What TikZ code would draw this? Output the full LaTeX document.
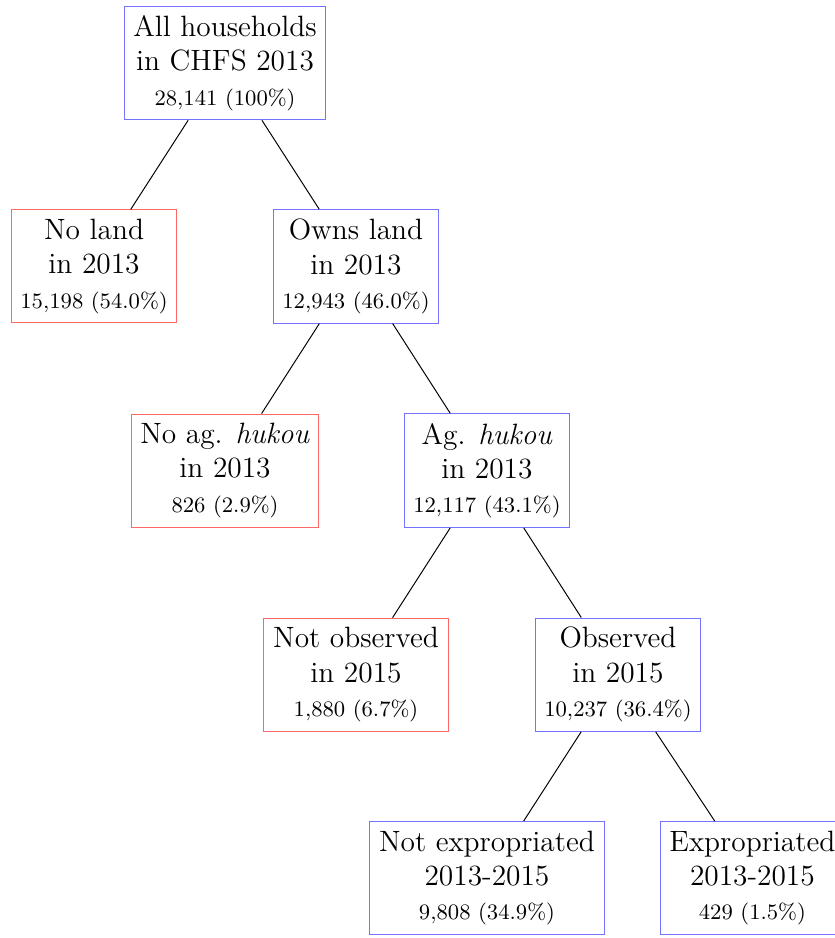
\documentclass[tikz,border=0pt]{standalone}
\usepackage{tikz}

\begin{document}
\begin{tikzpicture}[
    keep/.style={draw=blue!55, align=center, font=\large, inner sep=3.8pt},
    drop/.style={draw=red!60, align=center, font=\large, inner sep=3.8pt}
  ]
      \useasboundingbox (-3.23,0.904) rectangle (8.75,-12.56);
      \draw
        (0,0) node[keep] (0){All households\\in CHFS 2013\\{\small 28,141 (100\%)}}
        (-1.88,-2.92) node[drop] (1){No land\\in 2013\\{\small 15,198 (54.0\%)}}
        (1.88,-2.92) node[keep] (2){Owns land\\in 2013\\{\small 12,943 (46.0\%)}}
        (0,-5.85) node[drop] (3){No ag. \textit{hukou}\\in 2013\\{\small 826 (2.9\%)}}
        (3.76,-5.85) node[keep] (4){Ag. \textit{hukou}\\in 2013\\{\small 12,117 (43.1\%)}}
        (1.88,-8.78) node[drop] (5){Not observed\\in 2015\\{\small 1,880 (6.7\%)}}
        (5.64,-8.78) node[keep] (6){Observed\\in 2015\\{\small 10,237 (36.4\%)}}
        (3.76,-11.7) node[keep] (7){Not expropriated\\2013-2015\\{\small 9,808 (34.9\%)}}
        (7.57,-11.7) node[keep] (8){Expropriated\\2013-2015\\{\small 429 (1.5\%)}};
      \begin{scope}[-]
        \draw (0) to (1);
        \draw (0) to (2);
        \draw (2) to (3);
        \draw (2) to (4);
        \draw (4) to (5);
        \draw (4) to (6);
        \draw (6) to (7);
        \draw (6) to (8);
      \end{scope}
    \end{tikzpicture}
\end{document}
